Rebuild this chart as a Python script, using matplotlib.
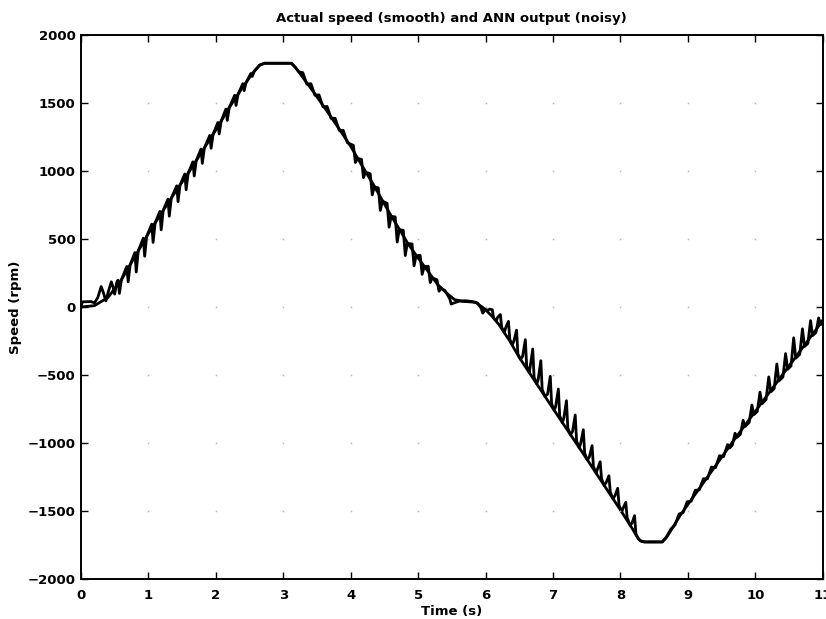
import numpy as np
import matplotlib
matplotlib.use("Agg")
import matplotlib.pyplot as plt

# -----------------------------
# DATA
# -----------------------------
# actual (measured) motor speed, rpm
t_act = [0.0, 0.2, 0.4, 0.6, 0.8, 1.0, 1.2, 1.4, 1.6, 1.8, 2.0, 2.2, 2.4, 2.55,
         2.65, 2.72, 3.12, 3.18, 3.27, 3.47, 3.71, 3.86, 4.01, 4.16, 4.33, 4.45,
         4.6, 4.73, 4.85, 5.0, 5.15, 5.29, 5.44, 5.54, 5.65, 5.85, 5.95, 6.0,
         6.1, 6.2, 6.36, 6.5, 7.0, 7.5, 8.0, 8.18, 8.25, 8.3, 8.36, 8.62, 8.68,
         8.75, 8.9, 9.65, 10.4, 11.0]
v_act = [0, 10, 70, 200, 370, 540, 695, 845, 990, 1145, 1300, 1465, 1615, 1720,
         1775, 1790, 1790, 1760, 1700, 1565, 1395, 1285, 1172, 1045, 905, 800,
         670, 565, 465, 360, 260, 165, 95, 55, 42, 35, 0, -20,
         -70, -130, -250, -370, -745, -1115, -1490, -1630, -1690, -1718, -1725, -1725, -1695,
         -1640, -1520, -1000, -500, -100]

# ANN estimate of the speed, rpm
t_ann = [0.0, 0.02, 0.15, 0.2, 0.25, 0.30, 0.33, 0.37, 0.41, 0.45, 0.48, 0.50, 0.53,
         0.55, 0.57, 0.60, 0.68, 0.70, 0.73, 0.80, 0.82, 0.85,
         0.925, 0.945, 0.975, 1.05, 1.07, 1.10, 1.17, 1.19, 1.22,
         1.29, 1.31, 1.34, 1.42, 1.44, 1.47, 1.54, 1.56, 1.59,
         1.66, 1.68, 1.71, 1.78, 1.80, 1.83, 1.91, 1.93, 1.96,
         2.03, 2.05, 2.08, 2.15, 2.17, 2.20, 2.28, 2.30, 2.33,
         2.40, 2.42, 2.45, 2.52, 2.54, 2.57, 2.65, 2.72, 3.12, 3.18,
         3.23, 3.29, 3.35, 3.41, 3.47, 3.53, 3.59, 3.65, 3.71, 3.77, 3.83, 3.89, 3.95,
         4.04, 4.07, 4.10, 4.16, 4.19, 4.22, 4.29, 4.32, 4.35,
         4.41, 4.44, 4.47, 4.54, 4.57, 4.60, 4.66, 4.69, 4.72,
         4.78, 4.81, 4.84, 4.91, 4.94, 4.97, 5.03, 5.06, 5.09,
         5.15, 5.18, 5.21, 5.28, 5.31, 5.34,
         5.40, 5.47, 5.49, 5.56, 5.62, 5.71, 5.80, 5.88, 5.93, 5.96, 6.00, 6.03,
         6.06, 6.10, 6.12, 6.16, 6.18, 6.22, 6.24, 6.28,
         6.30, 6.34, 6.36, 6.40, 6.42, 6.46, 6.48, 6.52,
         6.55, 6.59, 6.61, 6.65, 6.66, 6.70, 6.72, 6.76,
         6.78, 6.82, 6.84, 6.88, 6.92, 6.96, 6.98, 7.02,
         7.04, 7.08, 7.10, 7.14, 7.16, 7.20, 7.22, 7.26,
         7.29, 7.33, 7.35, 7.39, 7.41, 7.45, 7.47, 7.51,
         7.54, 7.58, 7.60, 7.64, 7.66, 7.70, 7.72, 7.76,
         7.79, 7.83, 7.85, 7.89, 7.92, 7.96, 7.98, 8.02,
         8.04, 8.08, 8.10, 8.14, 8.17, 8.21, 8.23, 8.27,
         8.32, 8.36, 8.62,
         8.68, 8.75, 8.81, 8.87, 8.93, 8.99, 9.05, 9.11, 9.17, 9.23, 9.29,
         9.35, 9.41, 9.47, 9.53, 9.59, 9.62,
         9.66, 9.70, 9.73, 9.78, 9.82, 9.85, 9.91, 9.95, 9.98,
         10.03, 10.07, 10.10, 10.16, 10.20, 10.23, 10.28, 10.32, 10.35,
         10.41, 10.45, 10.48, 10.53, 10.57, 10.60, 10.66, 10.70, 10.73,
         10.78, 10.82, 10.85, 10.90, 10.94, 10.97, 11.0]
v_ann = [0, 38, 40, 30, 70, 150, 110, 45, 120, 185, 140, 95, 180,
         197, 100, 200, 298, 185, 310, 400, 257, 412,
         506, 373, 519, 609, 474, 617, 702, 567, 710,
         792, 667, 800, 890, 774, 896, 977, 861, 983,
         1066, 962, 1075, 1160, 1055, 1168, 1260, 1166, 1269,
         1355, 1271, 1366, 1454, 1370, 1465, 1555, 1480, 1562,
         1640, 1589, 1650, 1715, 1693, 1731, 1777, 1790, 1790, 1760,
         1727, 1721, 1636, 1640, 1555, 1558, 1470, 1473, 1385, 1386, 1297, 1297, 1207,
         1187, 1061, 1091, 1085, 950, 991, 978, 823, 883,
         875, 709, 778, 762, 586, 665, 662, 477, 568,
         563, 378, 468, 463, 302, 376, 380, 240, 295,
         300, 180, 214, 200, 116, 137,
         120, 60, 22, 35, 45, 46, 40, 30, -5, -45, -15, -25,
         -15, -20, -80, -100, -75, -55, -150, -185,
         -150, -105, -240, -275, -250, -170, -345, -385,
         -362, -240, -432, -482, -445, -308, -515, -565,
         -535, -394, -605, -655, -640, -509, -710, -760,
         -729, -602, -799, -849, -818, -688, -888, -938,
         -914, -793, -984, -1034, -1003, -901, -1073, -1123,
         -1100, -1018, -1170, -1220, -1190, -1136, -1260, -1310,
         -1288, -1239, -1358, -1408, -1385, -1331, -1455, -1505,
         -1477, -1434, -1547, -1597, -1590, -1532, -1665, -1705,
         -1722, -1725, -1725,
         -1690, -1630, -1600, -1520, -1510, -1430, -1426, -1346, -1343, -1261, -1262,
         -1175, -1180, -1092, -1098, -1010, -1035,
         -1014, -927, -957, -934, -832, -877, -847, -720, -790,
         -767, -625, -710, -680, -513, -623, -600, -418, -543,
         -514, -342, -457, -433, -226, -376, -347, -160, -290,
         -267, -100, -210, -187, -80, -130, -100]

x_ticks = [0, 1, 2, 3, 4, 5, 6, 7, 8, 9, 10, 11]
y_ticks = [-2000, -1500, -1000, -500, 0, 500, 1000, 1500, 2000]

# -----------------------------
# FIGURE
# -----------------------------
plt.rcParams['font.family'] = ['DejaVu Sans']
plt.rcParams['font.weight'] = 'bold'

fig = plt.figure(figsize=(8.26, 6.19), dpi=100)
ax = fig.add_axes([0.098, 0.064, 0.898, 0.880])

ax.plot(t_act, v_act, color='black', lw=2.0, solid_joinstyle='round')
ax.plot(t_ann, v_ann, color='black', lw=2.0, solid_joinstyle='round')

# faint dots where the grid lines meet
gx, gy = np.meshgrid(x_ticks[1:-1], y_ticks[1:-1])
ax.plot(gx.ravel(), gy.ravel(), ls='none', marker='s', ms=1.1,
        color='#b5b5b5', mew=0)

ax.set_xlim(0, 11)
ax.set_ylim(-2000, 2000)
ax.set_xticks(x_ticks)
ax.set_yticks(y_ticks)
ax.tick_params(direction='in', length=5, width=1.0, top=True, right=True,
               labelsize=9.5, pad=4)
ax.tick_params(axis='x', pad=7)
for s in ax.spines.values():
    s.set_linewidth(1.4)

ax.set_title("Actual speed (smooth) and ANN output (noisy)", fontsize=9.5,
             fontweight='bold', pad=9)
ax.set_xlabel("Time (s)", fontsize=9.5, fontweight='bold', labelpad=2)
ax.set_ylabel("Speed (rpm)", fontsize=9.5, fontweight='bold', labelpad=4)

fig.savefig("out.png", dpi=100)
